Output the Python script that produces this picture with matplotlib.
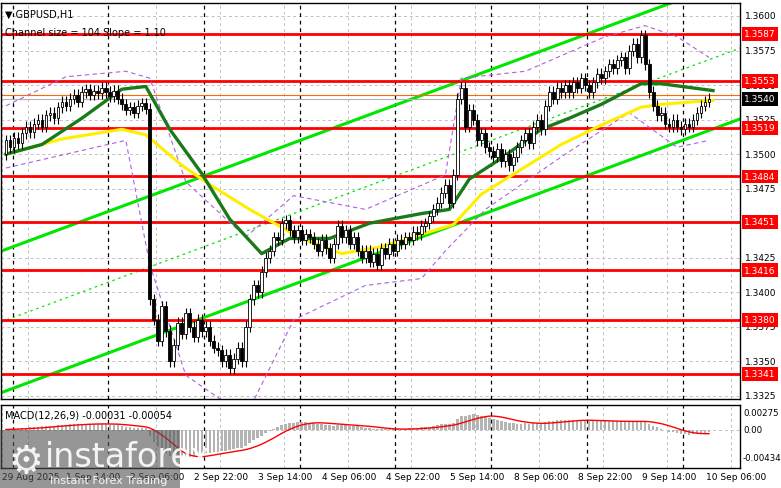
import matplotlib
matplotlib.use("Agg")
import matplotlib.pyplot as plt
import numpy as np
import pandas as pd

closes = [
    1.3510, 1.3505, 1.3512, 1.3508, 1.3515, 1.3520, 1.3516, 1.3522, 1.3525, 1.3520,
    1.3528, 1.3530, 1.3526, 1.3534, 1.3538, 1.3535, 1.3540, 1.3543, 1.3538, 1.3545,
    1.3547, 1.3543, 1.3546, 1.3544, 1.3548, 1.3545, 1.3542, 1.3546, 1.3540, 1.3536,
    1.3532, 1.3534, 1.3530, 1.3535, 1.3537, 1.3533, 1.3395, 1.3380, 1.3365, 1.3390,
    1.3372, 1.3350, 1.3362, 1.3378, 1.3370, 1.3385, 1.3375, 1.3368, 1.3380, 1.3372,
    1.3375, 1.3365, 1.3360, 1.3358, 1.3350, 1.3355, 1.3345, 1.3352, 1.3360, 1.3350,
    1.3375, 1.3395, 1.3405, 1.3400, 1.3415, 1.3425, 1.3430, 1.3440, 1.3438, 1.3450,
    1.3452, 1.3445, 1.3440, 1.3445, 1.3438, 1.3442, 1.3440, 1.3435, 1.3430, 1.3438,
    1.3432, 1.3425, 1.3435, 1.3448, 1.3440, 1.3445, 1.3435, 1.3440, 1.3430, 1.3425,
    1.3430, 1.3422, 1.3428, 1.3420, 1.3432, 1.3428, 1.3435, 1.3430, 1.3438, 1.3435,
    1.3440, 1.3438, 1.3444, 1.3442, 1.3448, 1.3450, 1.3455, 1.3460, 1.3465, 1.3472,
    1.3478, 1.3465, 1.3485, 1.3540, 1.3548, 1.3520, 1.3532, 1.3525, 1.3510, 1.3515,
    1.3505, 1.3502, 1.3498, 1.3504, 1.3495, 1.3500, 1.3492, 1.3498, 1.3505, 1.3510,
    1.3515, 1.3508, 1.3520, 1.3525, 1.3518, 1.3535, 1.3545, 1.3540, 1.3548, 1.3545,
    1.3550, 1.3545, 1.3552, 1.3548, 1.3555, 1.3550, 1.3545, 1.3552, 1.3558, 1.3555,
    1.3560, 1.3565, 1.3562, 1.3568, 1.3570, 1.3562, 1.3575, 1.3580, 1.3570, 1.3586,
    1.3565, 1.3545, 1.3535, 1.3528, 1.3530, 1.3522, 1.3520, 1.3525, 1.3520, 1.3518,
    1.3522, 1.3520, 1.3525, 1.3530, 1.3535, 1.3538, 1.3540,
]
first_open = 1.3500

# moving averages, read as (candle index, price) waypoints
green_idx = [0, 9, 19, 29, 35, 41, 49, 56, 64, 71, 81, 91, 104, 111, 116, 124, 134, 141, 149, 159, 164, 177]
green_val = [1.3500, 1.3507, 1.3526, 1.3547, 1.3549, 1.3518, 1.3486, 1.3453, 1.3428, 1.3439, 1.3439, 1.3450,
             1.3457, 1.3460, 1.3482, 1.3497, 1.3518, 1.3526, 1.3536, 1.3551, 1.3551, 1.3546]
yellow_idx = [0, 14, 29, 35, 44, 51, 61, 74, 84, 94, 104, 112, 119, 129, 139, 149, 159, 164, 177]
yellow_val = [1.3500, 1.3511, 1.3518, 1.3514, 1.3492, 1.3478, 1.3460, 1.3439, 1.3428, 1.3433, 1.3442,
              1.3449, 1.3471, 1.3489, 1.3507, 1.3521, 1.3534, 1.3536, 1.3539]

# dashed envelope bands (upper / lower)
band_up_idx = [0, 15, 30, 36, 45, 60, 72, 90, 110, 114, 130, 150, 160, 168, 176]
band_up_val = [1.3535, 1.3556, 1.3560, 1.3555, 1.3480, 1.3440, 1.3470, 1.3460, 1.3485, 1.3555, 1.3560, 1.3585, 1.3593, 1.3585, 1.3570]
band_lo_idx = [0, 15, 30, 36, 45, 60, 72, 90, 104, 110, 120, 140, 156, 168, 176]
band_lo_val = [1.3490, 1.3500, 1.3510, 1.3420, 1.3340, 1.3310, 1.3380, 1.3405, 1.3410, 1.3430, 1.3460, 1.3500, 1.3530, 1.3505, 1.3510]

levels = [1.3587, 1.3553, 1.3519, 1.3484, 1.3451, 1.3416, 1.3380, 1.3341]
price_ticks = [1.3600, 1.3575, 1.3550, 1.3525, 1.3500, 1.3475, 1.3450, 1.3425, 1.3400, 1.3375, 1.3350, 1.3325]
time_labels = ["29 Aug 2025", "1 Sep 14:00", "2 Sep 06:00", "2 Sep 22:00", "3 Sep 14:00", "4 Sep 06:00",
               "4 Sep 22:00", "5 Sep 14:00", "8 Sep 06:00", "8 Sep 22:00", "9 Sep 14:00", "10 Sep 06:00"]
time_pos = [-1, 5.5, 37.5, 53.5, 69.5, 85.5, 101.5, 117.5, 133.5, 149.5, 165.5, 181.5]
day_lines = [1.75, 25.5, 49.5, 73.5, 97.5, 121.5, 145.5, 169.5]
last_price = 1.3540

W, H = 781, 489
fig = plt.figure(figsize=(W / 100, H / 100), dpi=100)
fig.patch.set_facecolor("white")


def px_axes(x0, y0, x1, y1):
    return fig.add_axes((x0 / W, 1 - y1 / H, (x1 - x0) / W, (y1 - y0) / H))


ax = px_axes(1, 4, 740, 400)
mx = px_axes(1, 406, 740, 469)
xlim = (-1.25, 183.75)
for a in (ax, mx):
    a.set_xlim(*xlim)
    a.set_xticks([]); a.set_yticks([])
    for s in a.spines.values():
        s.set_color("black"); s.set_linewidth(1)

ax.set_ylim(1.33228, 1.36094)

# grid
for p in price_ticks:
    ax.axhline(p, color="#c0c0c0", lw=0.7, ls=(0, (3, 3)), zorder=0)
for t in time_pos:
    for a in (ax, mx):
        a.axvline(t, color="#c0c0c0", lw=0.7, ls=(0, (3, 3)), zorder=0)
for t in day_lines:
    for a in (ax, mx):
        a.axvline(t, color="black", lw=0.9, ls=(0, (3, 3)), zorder=0)

# channel
xs = np.array(xlim)
slope = 0.37 * 13818 ** -1 * 4  # price per candle
lower = 1.3600 - (120 - 17) / 13818 + (xs - 183.75) * slope
upper = 1.3600 - (82 - 17) / 13818 + (xs - 113.75) * slope
ax.plot(xs, lower, color="#00e600", lw=2.2, zorder=2)
ax.plot(xs, upper, color="#00e600", lw=2.2, zorder=2)
ax.plot(xs, (lower + upper) / 2, color="#00e600", lw=0.9, ls=(0, (2, 3)), zorder=2)

for lv in levels:
    ax.axhline(lv, color="#ff0000", lw=2, zorder=2)
ax.axhline(1.3543, color="#ff6a00", lw=0.8, zorder=2)
ax.axhline(last_price, color="#b0b0b0", lw=0.8, zorder=2)

ax.plot(band_up_idx, band_up_val, color="#b060e0", lw=0.8, ls=(0, (4, 3)), zorder=2)
ax.plot(band_lo_idx, band_lo_val, color="#b060e0", lw=0.8, ls=(0, (4, 3)), zorder=2)
ax.plot(yellow_idx, yellow_val, color="#ffee00", lw=2.2, zorder=3)
ax.plot(green_idx, green_val, color="#1a7a1a", lw=2.4, zorder=3)

# candles
opens = [first_open] + closes[:-1]
for i, (o, c) in enumerate(zip(opens, closes)):
    hi = max(o, c) + 0.0004
    lo = min(o, c) - 0.0004
    ax.vlines(i, lo, hi, color="black", lw=0.8, zorder=4)
    ax.bar(i, abs(c - o) or 0.00005, 0.7, bottom=min(o, c),
           color="white" if c >= o else "black", edgecolor="black", lw=0.6, zorder=5)

# right price scale
FS = 6.5
for p in price_ticks:
    fig.text(745 / W, ax.transData.transform((0, p))[1] / H, f"{p:.4f}", fontsize=FS, va="center", ha="left")
for lv in levels:
    y = ax.transData.transform((0, lv))[1] / H
    fig.text(744 / W, y, f"{lv:.4f}", fontsize=FS, va="center", ha="left", color="white",
             bbox=dict(boxstyle="square,pad=0.25", fc="#ff0000", ec="none"))
fig.text(744 / W, ax.transData.transform((0, last_price))[1] / H, f"{last_price:.4f}", fontsize=FS,
         va="center", ha="left", color="white", bbox=dict(boxstyle="square,pad=0.25", fc="black", ec="none"))

ax.text(0.005, 0.985, "\u25bc GBPUSD,H1", transform=ax.transAxes, fontsize=7, va="top")
ax.text(0.005, 0.94, "Channel size = 104 Slope = 1.10", transform=ax.transAxes, fontsize=7, va="top")

# MACD
s = pd.Series([first_open] + closes)
macd = (s.ewm(span=12, adjust=False).mean() - s.ewm(span=26, adjust=False).mean()).values[1:]
signal = pd.Series(macd).rolling(9, min_periods=1).mean().values
idx = np.arange(len(closes))
mx.set_ylim(-0.0061, 0.0040)
mx.bar(idx, macd, 0.6, color="#b4b4b4", zorder=2)
mx.plot(idx, signal, color="#ff0000", lw=1, zorder=3)
mx.axhline(0, color="#c0c0c0", lw=0.7, ls=(0, (3, 3)), zorder=0)
mx.text(0.005, 0.93, "MACD(12,26,9) -0.00031 -0.00054", transform=mx.transAxes, fontsize=7, va="top")
for v, lab in [(0.00275, "0.00275"), (0.0, "0.00"), (-0.00434, "-0.00434")]:
    fig.text(743 / W, mx.transData.transform((0, v))[1] / H, lab, fontsize=6.2, va="center", ha="left")

for k, lab in enumerate(time_labels):
    fig.text((2 + 64 * k) / W, 1 - 478 / H, lab, fontsize=FS, va="center", ha="left")

# watermark
fig.patches.append(plt.Rectangle((0, 0), 180 / W, 58 / H, transform=fig.transFigure,
                                 fc="#505050", alpha=0.6, ec="none", zorder=10))
fig.text(45 / W, 1 - 458 / H, "instaforex", fontsize=24, color="white", alpha=0.9, va="center", zorder=11)
fig.text(50 / W, 1 - 481 / H, "Instant Forex Trading", fontsize=8, color="white", alpha=0.9, va="center", zorder=11)
fig.text(8 / W, 1 - 462 / H, "\u2699", fontsize=28, color="white", alpha=0.9, va="center", zorder=11)

fig.savefig("out.png", dpi=100)
